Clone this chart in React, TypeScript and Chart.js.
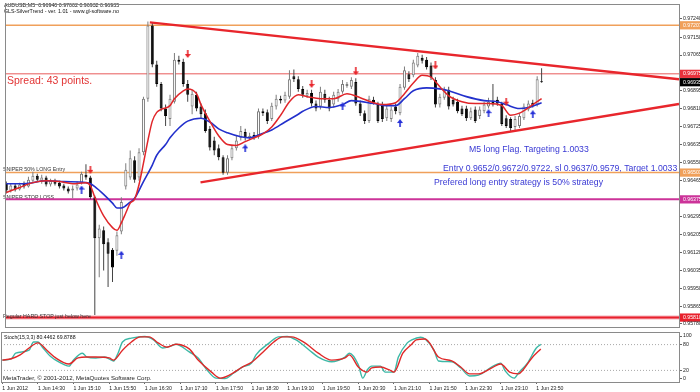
import React, { useEffect, useRef } from "react";
import { Chart, registerables } from "chart.js";

Chart.register(...registerables);

// ---------------- data ----------------
const OPEN = [
  0.9645, 0.96417, 0.96441, 0.96422, 0.9645, 0.96436, 0.96464, 0.96488, 0.96464, 0.96479,
  0.96446, 0.96464, 0.96455, 0.96441, 0.96427, 0.96417, 0.96427, 0.96455, 0.96493, 0.96479,
  0.96385, 0.96189, 0.96227, 0.9617, 0.96134, 0.96129, 0.96222, 0.96436, 0.96479, 0.96562,
  0.96479, 0.966, 0.96856, 0.97206, 0.9702, 0.96927, 0.96809, 0.96759, 0.96842, 0.97042,
  0.97033, 0.96927, 0.96819, 0.96875, 0.96819, 0.96787, 0.96712, 0.96656, 0.96619, 0.96576,
  0.96502, 0.96572, 0.96619, 0.96669, 0.96697, 0.96669, 0.96683, 0.96674, 0.96796, 0.96791,
  0.96759, 0.96819, 0.96856, 0.96847, 0.96866, 0.96963, 0.96949, 0.96903, 0.9687, 0.96884,
  0.96833, 0.96819, 0.9688, 0.96851, 0.96828, 0.96856, 0.96889, 0.96917, 0.96913, 0.96936,
  0.96833, 0.96787, 0.96749, 0.96851, 0.96828, 0.96823, 0.96763, 0.96759, 0.96819, 0.96787,
  0.96908, 0.96973, 0.96968, 0.97015, 0.97052, 0.97042, 0.97015, 0.96945, 0.96828, 0.96861,
  0.96899, 0.96851, 0.96842, 0.96809, 0.96809, 0.96763, 0.96805, 0.96773, 0.96796, 0.96819,
  0.96842, 0.96851, 0.96833, 0.96763, 0.96759, 0.96721, 0.96726, 0.96763, 0.96805, 0.96837,
  0.96828, 0.9694,
];
const HIGH = [
  0.9646, 0.9645, 0.9645, 0.96455, 0.9646, 0.96483, 0.96507, 0.96497, 0.96493, 0.96488,
  0.96474, 0.96474, 0.96464, 0.9645, 0.96436, 0.96441, 0.9646, 0.96507, 0.96543, 0.96488,
  0.96394, 0.96254, 0.96245, 0.96189, 0.96143, 0.96222, 0.96385, 0.96548, 0.96609, 0.96581,
  0.96619, 0.96866, 0.97225, 0.9722, 0.97038, 0.96936, 0.96828, 0.96875, 0.97075, 0.97061,
  0.97047, 0.96945, 0.96899, 0.96889, 0.96833, 0.96805, 0.96726, 0.96674, 0.96637, 0.96586,
  0.96586, 0.96633, 0.96679, 0.96726, 0.96712, 0.96693, 0.96697, 0.96809, 0.96809, 0.96805,
  0.96837, 0.96875, 0.9687, 0.96889, 0.96992, 0.96996, 0.96963, 0.96917, 0.96899, 0.96899,
  0.96847, 0.96913, 0.96899, 0.96866, 0.96889, 0.96903, 0.96945, 0.96936, 0.96959, 0.96954,
  0.96847, 0.968, 0.9687, 0.96866, 0.96842, 0.96842, 0.96823, 0.96819, 0.96833, 0.96927,
  0.9701, 0.96987, 0.97042, 0.97075, 0.97066, 0.97056, 0.97029, 0.96959, 0.9688, 0.96913,
  0.96913, 0.96866, 0.96856, 0.96823, 0.96823, 0.96814, 0.96819, 0.96819, 0.96842, 0.96861,
  0.96927, 0.96866, 0.96842, 0.96777, 0.96768, 0.96773, 0.96787, 0.96833, 0.96847, 0.96851,
  0.96963, 0.97002,
];
const LOW = [
  0.96403, 0.96408, 0.96413, 0.96417, 0.96427, 0.96432, 0.96455, 0.9646, 0.9645, 0.96436,
  0.96436, 0.96441, 0.96427, 0.96417, 0.96403, 0.9638, 0.96417, 0.96446, 0.96469, 0.96376,
  0.95822, 0.96003, 0.96035, 0.95956, 0.9598, 0.96105, 0.96208, 0.96422, 0.96469, 0.96455,
  0.96464, 0.96586, 0.96842, 0.97006, 0.96913, 0.96796, 0.96726, 0.96726, 0.96833, 0.9702,
  0.96913, 0.96842, 0.96782, 0.96796, 0.96759, 0.96693, 0.96609, 0.96586, 0.96562, 0.96493,
  0.96493, 0.96562, 0.96609, 0.96656, 0.96656, 0.9666, 0.9666, 0.96665, 0.96773, 0.96735,
  0.96749, 0.96805, 0.96833, 0.96837, 0.96856, 0.96936, 0.96889, 0.96861, 0.96861, 0.96819,
  0.96796, 0.96805, 0.96837, 0.96796, 0.96814, 0.96842, 0.9688, 0.96908, 0.96903, 0.96823,
  0.96773, 0.96735, 0.9674, 0.96828, 0.9674, 0.96745, 0.96749, 0.96745, 0.96782, 0.96777,
  0.96899, 0.96936, 0.96959, 0.97006, 0.97024, 0.96996, 0.96945, 0.96814, 0.96814, 0.96851,
  0.96805, 0.96819, 0.96787, 0.96773, 0.96749, 0.96754, 0.9674, 0.96759, 0.96787, 0.96809,
  0.96819, 0.96823, 0.96726, 0.96716, 0.96702, 0.96707, 0.96716, 0.96754, 0.96796, 0.96814,
  0.96819, 0.96932,
];
const CLOSE = [
  0.96417, 0.96441, 0.96422, 0.96446, 0.96436, 0.96469, 0.96488, 0.96469, 0.96479, 0.96446,
  0.96464, 0.9645, 0.96436, 0.96427, 0.96413, 0.96427, 0.96446, 0.96497, 0.96479, 0.96385,
  0.96189, 0.96236, 0.96161, 0.96115, 0.96049, 0.96203, 0.96362, 0.96516, 0.96572, 0.96469,
  0.966, 0.96856, 0.97206, 0.9702, 0.96927, 0.96809, 0.96773, 0.96856, 0.97042, 0.97033,
  0.96927, 0.96875, 0.9688, 0.96809, 0.96782, 0.96702, 0.96623, 0.96609, 0.96576, 0.96502,
  0.96572, 0.96619, 0.96656, 0.96702, 0.96669, 0.96679, 0.96669, 0.96796, 0.96787, 0.96749,
  0.96823, 0.96856, 0.96847, 0.96875, 0.96949, 0.96949, 0.96903, 0.96875, 0.96884, 0.96833,
  0.96809, 0.96889, 0.96851, 0.96809, 0.96875, 0.96889, 0.96927, 0.96927, 0.96945, 0.96833,
  0.96787, 0.96749, 0.96856, 0.96837, 0.96749, 0.96759, 0.96809, 0.96805, 0.96796, 0.96913,
  0.96992, 0.96949, 0.97029, 0.97061, 0.97038, 0.97006, 0.96959, 0.96828, 0.96866, 0.96899,
  0.96819, 0.96828, 0.96796, 0.96782, 0.96763, 0.96796, 0.96749, 0.96805, 0.96828, 0.96842,
  0.96828, 0.96833, 0.96735, 0.96726, 0.96716, 0.96759, 0.96773, 0.96819, 0.96833, 0.96823,
  0.96949, 0.96935,
];

// moving averages read at bar indices: [bar, price]
const RED_MA = [
  [0, 0.96408], [3, 0.96432], [6, 0.96455], [9, 0.96464], [12, 0.9646], [15, 0.9645],
  [18, 0.96455], [19, 0.96441], [20, 0.96385], [22, 0.96296], [24, 0.9624], [25, 0.96227],
  [26, 0.96263], [27, 0.9631], [28, 0.96357], [29, 0.96376], [30, 0.96446], [31, 0.96548],
  [32, 0.96656], [33, 0.96749], [34, 0.96791], [35, 0.96805], [37, 0.96823], [38, 0.96856],
  [40, 0.96894], [41, 0.96903], [43, 0.9688], [44, 0.96828], [46, 0.96749], [48, 0.96679],
  [50, 0.96637], [52, 0.96633], [54, 0.96651], [56, 0.96669], [58, 0.96688], [60, 0.96721],
  [62, 0.96777], [64, 0.96842], [66, 0.96875], [68, 0.96866], [71, 0.96856], [74, 0.96856],
  [77, 0.9688], [80, 0.96861], [83, 0.96837], [85, 0.96828], [88, 0.96837], [90, 0.9688],
  [92, 0.96931], [94, 0.96968], [96, 0.96959], [98, 0.96913], [100, 0.9687], [103, 0.96842],
  [106, 0.96833], [109, 0.96833], [112, 0.96823], [114, 0.96777], [116, 0.96787],
  [119, 0.96828], [121, 0.96856],
];
const BLUE_MA = [
  [0, 0.9645], [4, 0.9645], [9, 0.96464], [13, 0.9646], [18, 0.96455], [19, 0.9645],
  [20, 0.96436], [22, 0.96399], [24, 0.96357], [25, 0.96334], [26, 0.96334], [28, 0.96362],
  [29, 0.9638], [31, 0.9646], [33, 0.96539], [34, 0.96586], [36, 0.96637], [37, 0.96669],
  [39, 0.96716], [41, 0.96749], [44, 0.96763], [46, 0.96745], [48, 0.96712], [50, 0.96693],
  [53, 0.96674], [55, 0.96669], [57, 0.96683], [60, 0.96707], [63, 0.96745], [66, 0.96782],
  [67, 0.96796], [70, 0.96819], [73, 0.96814], [76, 0.96828], [78, 0.96847], [83, 0.96833],
  [86, 0.96823], [88, 0.96823], [90, 0.96856], [92, 0.96894], [95, 0.96908], [98, 0.96903],
  [100, 0.96894], [104, 0.96866], [108, 0.96847], [111, 0.96842], [113, 0.96828],
  [116, 0.96809], [118, 0.96814], [121, 0.96837],
];

// SilverTrend signal arrows: [bar, price]
const SELL_ARROWS = [[19, 0.96516], [41, 0.9707], [69, 0.96927], [79, 0.96987], [97, 0.97015], [113, 0.96842]];
const BUY_ARROWS = [[17, 0.96422], [26, 0.9611], [54, 0.96619], [76, 0.96819], [89, 0.9674], [109, 0.96787], [119, 0.96782]];

// trend lines: [bar, price] start and end
const UPPER_TREND = [[32.44, 0.97221], [152.06, 0.96949]];
const LOWER_TREND = [[43.9, 0.96456], [152.06, 0.96831]];

// horizontal levels
const LEVEL_TOP_ORANGE = 0.97207;
const LEVEL_SPREAD_RED = 0.96975;
const LEVEL_ENTRY_ORANGE = 0.96503;
const LEVEL_STOP_MAGENTA = 0.96375;
const LEVEL_HARD_STOP = 0.9581;
const BID_PRICE = 0.96935;

const PRICE_TICKS = [
  0.9724, 0.97207, 0.9715, 0.97065, 0.96975, 0.96935, 0.96895, 0.9681, 0.96725, 0.96635,
  0.9655, 0.96503, 0.96465, 0.96375, 0.96295, 0.96205, 0.9612, 0.96035, 0.9595, 0.95865,
  0.9581, 0.9578,
];
const BOXED_PRICES = [LEVEL_TOP_ORANGE, LEVEL_SPREAD_RED, BID_PRICE, LEVEL_ENTRY_ORANGE, LEVEL_STOP_MAGENTA, LEVEL_HARD_STOP];

const TIME_TICKS = [0, 8, 16, 24, 32, 40, 48, 56, 64, 72, 80, 88, 96, 104, 112, 120];
const TIME_LABELS = [
  "1 Jun 2012", "1 Jun 14:30", "1 Jun 15:10", "1 Jun 15:50", "1 Jun 16:30", "1 Jun 17:10",
  "1 Jun 17:50", "1 Jun 18:30", "1 Jun 19:10", "1 Jun 19:50", "1 Jun 20:30", "1 Jun 21:10",
  "1 Jun 21:50", "1 Jun 22:30", "1 Jun 23:10", "1 Jun 23:50",
];

// Stochastic (15,3,3): [bar, value]
const STOCH_MAIN = [
  [0, 44], [2, 47], [3, 60], [6, 67], [7, 86], [8, 86], [9, 74], [11, 51], [14, 33], [15, 30],
  [16, 44], [18, 60], [19, 51], [21, 49], [23, 51], [25, 42], [26, 60], [27, 86], [29, 95],
  [32, 99], [34, 91], [36, 72], [38, 77], [39, 81], [42, 63], [44, 49], [46, 21], [48, 2],
  [50, 1], [52, 14], [54, 28], [56, 37], [57, 56], [60, 84], [62, 98], [64, 99], [66, 91],
  [69, 67], [71, 51], [74, 40], [77, 51], [78, 60], [80, 33], [81, 2], [82, 21], [83, 30],
  [85, 30], [86, 16], [88, 16], [89, 51], [91, 84], [92, 91], [94, 97], [95, 93], [97, 67],
  [98, 42], [101, 40], [103, 26], [105, 7], [107, 9], [110, 28], [112, 37], [113, 19],
  [115, 2], [116, 14], [118, 37], [120, 72], [121, 80.4462],
];
const STOCH_SIGNAL = [
  [0, 44], [2, 47], [4, 56], [6, 72], [8, 84], [10, 67], [12, 49], [15, 35], [17, 49], [19, 51],
  [21, 51], [24, 49], [25, 44], [27, 67], [29, 86], [31, 98], [33, 98], [35, 84], [37, 74],
  [39, 81], [42, 70], [44, 44], [47, 16], [49, 2], [51, 9], [54, 28], [56, 39], [59, 67],
  [61, 86], [63, 98], [65, 98], [68, 84], [71, 60], [74, 44], [77, 49], [78, 56], [80, 28],
  [82, 16], [83, 26], [85, 28], [87, 21], [88, 16], [90, 60], [92, 81], [93, 91], [95, 93],
  [96, 84], [98, 51], [101, 42], [103, 28], [105, 12], [107, 12], [110, 26], [112, 35],
  [114, 16], [116, 12], [117, 21], [119, 49], [121, 69.8788],
];
const STOCH_LEVELS = [80, 20];
const STOCH_TICKS = [0, 20, 80, 100];

// ---------------- styles ----------------
const FONT = '"Liberation Sans", Arial, sans-serif';
const X_MIN = -0.3;
const X_MAX = 152.06;
const Y_MIN = 0.95765;
const Y_MAX = 0.97304;
const BOX_COLORS = ["#f0a05a", "#e8323c", "#000000", "#f0a05a", "#cc3399", "#e8202c"];
const GRAY = "#7d7d7d";

const pts = (arr: number[][]) => arr.map(([x, y]) => ({ x, y }));
const hline = (v: number) => [{ x: X_MIN, y: v }, { x: X_MAX, y: v }];

function makeArrow(color: string, up: boolean) {
  const c = document.createElement("canvas");
  c.width = 6;
  c.height = 8;
  const g = c.getContext("2d")!;
  g.fillStyle = color;
  g.beginPath();
  if (up) {
    g.moveTo(3, 0); g.lineTo(6, 4); g.lineTo(0, 4);
  } else {
    g.moveTo(3, 8); g.lineTo(6, 4); g.lineTo(0, 4);
  }
  g.closePath();
  g.fill();
  if (up) g.fillRect(2.2, 3.5, 1.6, 4.5);
  else g.fillRect(2.2, 0, 1.6, 4.5);
  return c;
}

function boxIndex(v: number) {
  return BOXED_PRICES.findIndex((b) => Math.abs(b - v) < 1e-7);
}

const framePlugin = {
  id: "frame",
  afterDraw(chart: any) {
    const { ctx, chartArea: a } = chart;
    ctx.save();
    ctx.strokeStyle = "#8a8a8a";
    ctx.lineWidth = 1;
    ctx.strokeRect(a.left + 0.5, a.top - 0.5, a.right - a.left, a.bottom - a.top + 1);
    ctx.restore();
  },
};

type TextItem = { text: string; x: number; y: number; size: number; color: string; front?: boolean };
function drawTexts(chart: any, items: TextItem[], front: boolean) {
  const ctx = chart.ctx;
  ctx.save();
  ctx.textAlign = "left";
  ctx.textBaseline = "middle";
  for (const t of items) {
    if (!!t.front !== front) continue;
    ctx.font = `${t.size}px ${FONT}`;
    ctx.fillStyle = t.color;
    ctx.fillText(t.text, t.x, t.y);
  }
  ctx.restore();
}
function textPlugin(id: string, items: TextItem[]) {
  return {
    id,
    beforeDatasetsDraw(chart: any) {
      drawTexts(chart, items, false);
    },
    afterDatasetsDraw(chart: any) {
      drawTexts(chart, items, true);
    },
  };
}

const MAIN_TEXTS: TextItem[] = [
  { text: "AUDUSD,M5  0.96940 0.97002 0.96932 0.96935", x: 4, y: 5.5, size: 5.3, color: "#111" },
  { text: "GLS-SilverTrend - ver. 1.01 - www.gl-software.no", x: 4, y: 11.7, size: 5.3, color: "#111" },
  { text: "Spread: 43 points.", x: 7, y: 80.7, size: 10.5, color: "#e23434" },
  { text: "SNIPER 50% LONG Entry", x: 3, y: 170, size: 5.3, color: "#333" },
  { text: "SNIPER STOP LOSS", x: 3, y: 197.3, size: 5.3, color: "#333" },
  { text: "Regular HARD STOP just below here", x: 3, y: 316.3, size: 5.3, color: "#333", front: true },
  { text: "M5 long Flag. Targeting 1.0033", x: 469, y: 150, size: 8.7, color: "#3838d4" },
  { text: "Entry 0.9652/0.9672/0.9722, sl 0.9637/0.9579, Target 1.0033", x: 443, y: 169, size: 8.7, color: "#3838d4" },
  { text: "Prefered long entry strategy is 50% strategy", x: 434, y: 183, size: 8.7, color: "#3838d4" },
];
const STOCH_TEXTS: TextItem[] = [
  { text: "Stoch(15,3,3) 80.4462 69.8788", x: 4, y: 6, size: 5.2, color: "#111", front: true },
  { text: "MetaTrader, \u00A9 2001-2012, MetaQuotes Software Corp.", x: 3, y: 46, size: 6.1, color: "#222", front: true },
];

const tickFont = { family: FONT, size: 5.2 };

export default function App() {
  const mainRef = useRef<HTMLCanvasElement>(null);
  const stochRef = useRef<HTMLCanvasElement>(null);

  useEffect(() => {
    const bull = OPEN.map((o, i) => CLOSE[i] >= o);
    const sellImg = makeArrow("#e8262c", false);
    const buyImg = makeArrow("#2630d8", true);

    const lineBase = { pointRadius: 0, tension: 0, fill: false } as any;

    const main = new Chart(mainRef.current!, {
      type: "line",
      data: {
        datasets: [
          { type: "scatter", data: pts(SELL_ARROWS), pointStyle: sellImg, pointRadius: 4, showLine: false } as any,
          { type: "scatter", data: pts(BUY_ARROWS), pointStyle: buyImg, pointRadius: 4, showLine: false } as any,
          { ...lineBase, data: pts(UPPER_TREND), borderColor: "#e8262c", borderWidth: 2.4 },
          { ...lineBase, data: pts(LOWER_TREND), borderColor: "#e8262c", borderWidth: 2.4 },
          { ...lineBase, data: pts(RED_MA), borderColor: "#e0262a", borderWidth: 1.5, cubicInterpolationMode: "monotone" },
          { ...lineBase, data: pts(BLUE_MA), borderColor: "#2230cc", borderWidth: 1.6, cubicInterpolationMode: "monotone" },
          {
            type: "bar",
            data: OPEN.map((o, i) => ({ x: i, y: [Math.min(o, CLOSE[i]), Math.max(o, CLOSE[i])] })),
            backgroundColor: bull.map((b) => (b ? "#ffffff" : "#000000")),
            borderColor: bull.map((b) => (b ? GRAY : "#000000")),
            borderWidth: 1,
            borderSkipped: false,
            barThickness: 3,
            minBarLength: 1,
            grouped: false,
            inflateAmount: 0,
          } as any,
          {
            type: "bar",
            data: OPEN.map((_, i) => ({ x: i, y: [LOW[i], HIGH[i]] })),
            backgroundColor: bull.map((b) => (b ? GRAY : "#444444")),
            borderWidth: 0,
            barThickness: 1,
            grouped: false,
            inflateAmount: 0,
          } as any,
          { ...lineBase, data: hline(LEVEL_TOP_ORANGE), borderColor: "#f0a05a", borderWidth: 1.5 },
          { ...lineBase, data: hline(LEVEL_SPREAD_RED), borderColor: "#e85a5a", borderWidth: 1 },
          { ...lineBase, data: hline(LEVEL_ENTRY_ORANGE), borderColor: "#f0a05a", borderWidth: 1.5 },
          { ...lineBase, data: hline(LEVEL_STOP_MAGENTA), borderColor: "#cc3399", borderWidth: 2 },
          { ...lineBase, data: hline(LEVEL_HARD_STOP), borderColor: "#e8202c", borderWidth: 2 },
          { ...lineBase, data: hline(LEVEL_HARD_STOP), borderColor: "#f6b0b8", borderWidth: 4 },
        ],
      },
      options: {
        animation: false,
        responsive: false,
        devicePixelRatio: 1,
        layout: { padding: { left: 1, top: 1, right: 0, bottom: 1 } },
        plugins: { legend: { display: false }, tooltip: { enabled: false } },
        scales: {
          x: { type: "linear", min: X_MIN, max: X_MAX, display: false, offset: false },
          y: {
            type: "linear",
            position: "right",
            min: Y_MIN,
            max: Y_MAX,
            bounds: "data",
            border: { display: false },
            grid: { drawOnChartArea: false, drawTicks: true, tickLength: 3, color: "#666" },
            afterBuildTicks: (s: any) => {
              s.ticks = PRICE_TICKS.map((v) => ({ value: v }));
            },
            afterFit: (s: any) => {
              s.width = 61;
              s.paddingTop = 0;
              s.paddingBottom = 0;
            },
            ticks: {
              autoSkip: false,
              padding: 1,
              font: tickFont,
              callback: (v: any) => Number(v).toFixed(5),
              color: (c: any) => (boxIndex(c.tick?.value) >= 0 ? "#ffffff" : "#222222"),
              showLabelBackdrop: (c: any) => boxIndex(c.tick?.value) >= 0,
              backdropColor: (c: any) => {
                const k = boxIndex(c.tick?.value);
                return k >= 0 ? BOX_COLORS[k] : "rgba(0,0,0,0)";
              },
              backdropPadding: { left: 3, right: 10, top: 1, bottom: 1 },
            } as any,
          } as any,
        },
      },
      plugins: [framePlugin, textPlugin("mainTexts", MAIN_TEXTS)],
    } as any);

    const stoch = new Chart(stochRef.current!, {
      type: "line",
      data: {
        datasets: [
          { ...lineBase, data: pts(STOCH_SIGNAL), borderColor: "#e02828", borderWidth: 1.4, cubicInterpolationMode: "monotone" },
          { ...lineBase, data: pts(STOCH_MAIN), borderColor: "#3cb8a6", borderWidth: 1.4, cubicInterpolationMode: "monotone" },
          ...STOCH_LEVELS.map((v) => ({ ...lineBase, data: hline(v), borderColor: "#a8a8a8", borderWidth: 1, borderDash: [1, 2] })),
        ],
      },
      options: {
        animation: false,
        responsive: false,
        devicePixelRatio: 1,
        layout: { padding: { left: 1, top: 1, right: 0, bottom: 0 } },
        plugins: { legend: { display: false }, tooltip: { enabled: false } },
        scales: {
          x: {
            type: "linear",
            min: X_MIN,
            max: X_MAX,
            offset: false,
            border: { display: false },
            grid: { drawOnChartArea: false, drawTicks: true, tickLength: 2, color: "#666" },
            afterBuildTicks: (s: any) => {
              s.ticks = TIME_TICKS.map((v) => ({ value: v }));
            },
            afterFit: (s: any) => {
              s.height = 10;
              s.paddingLeft = 0;
              s.paddingRight = 0;
            },
            ticks: {
              autoSkip: false,
              align: "start",
              maxRotation: 0,
              minRotation: 0,
              padding: 1,
              font: tickFont,
              color: "#222",
              callback: (_v: any, i: number) => TIME_LABELS[i],
            },
          } as any,
          y: {
            type: "linear",
            position: "right",
            min: -7,
            max: 107,
            bounds: "data",
            border: { display: false },
            grid: { drawOnChartArea: false, drawTicks: true, tickLength: 3, color: "#666" },
            afterBuildTicks: (s: any) => {
              s.ticks = STOCH_TICKS.map((v) => ({ value: v }));
            },
            afterFit: (s: any) => {
              s.width = 61;
              s.paddingTop = 0;
              s.paddingBottom = 0;
            },
            ticks: { autoSkip: false, padding: 1, font: tickFont, color: "#222", callback: (v: any) => String(v) },
          } as any,
        },
      },
      plugins: [framePlugin, textPlugin("stochTexts", STOCH_TEXTS)],
    } as any);

    return () => {
      main.destroy();
      stoch.destroy();
    };
  }, []);

  return (
    <div
      style={{
        position: "fixed",
        left: 0,
        top: 0,
        width: 700,
        height: 392,
        overflow: "hidden",
        background: "#ffffff",
      }}
    >
      <canvas ref={mainRef} width={740} height={332} style={{ position: "absolute", left: 0, top: 0 }} />
      <canvas ref={stochRef} width={740} height={60} style={{ position: "absolute", left: 0, top: 332 }} />
    </div>
  );
}
